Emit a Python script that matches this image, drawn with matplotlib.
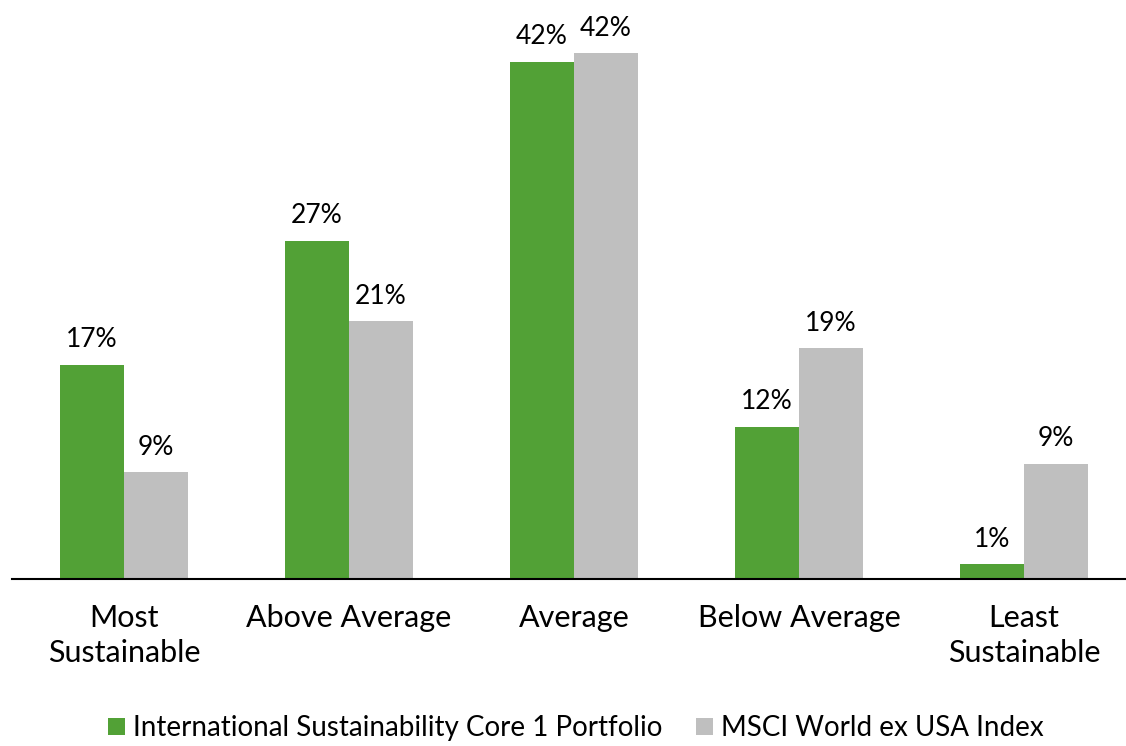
import numpy as np
import matplotlib.pyplot as plt

plt.rcParams['font.family'] = ['Lato', 'DejaVu Sans']

# data
categories = ["Most\nSustainable", "Above Average", "Average", "Below Average", "Least\nSustainable"]
portfolio = [17.3, 27.3, 41.7, 12.3, 1.2]
index_vals = [8.6, 20.8, 42.4, 18.6, 9.3]
series_names = ["International Sustainability Core 1 Portfolio", "MSCI World ex USA Index"]

GREEN = "#52A136"
GRAY = "#BFBFBF"
W = 0.284

fig = plt.figure(figsize=(11.26, 7.46), dpi=100)
ax = fig.add_axes([12 / 1126, 167 / 746, 1114 / 1126, 579 / 746])

x = np.arange(len(categories))
b1 = ax.bar(x - W / 2, portfolio, W, color=GREEN, label=series_names[0])
b2 = ax.bar(x + W / 2, index_vals, W, color=GRAY, label=series_names[1])

for bars, vals in [(b1, portfolio), (b2, index_vals)]:
    for rect, v in zip(bars, vals):
        ax.annotate(f"{v:.0f}%", (rect.get_x() + rect.get_width() / 2, rect.get_height()),
                    xytext=(0, 9), textcoords="offset points",
                    ha="center", va="bottom", fontsize=19)

ax.set_xlim(-0.498, 4.453)
ax.set_ylim(0, 46.7)
ax.set_xticks(x)
ax.set_xticklabels(categories, fontsize=22, linespacing=1.32)
ax.tick_params(axis="x", length=0, pad=18)
ax.set_yticks([])
for s in ["top", "left", "right"]:
    ax.spines[s].set_visible(False)
ax.spines["bottom"].set_linewidth(1.5)

fig.legend(handles=[b1, b2], loc="lower center", bbox_to_anchor=(0.5115, -0.027), ncol=2,
           frameon=False, fontsize=20, handlelength=0.6, handleheight=0.6,
           handletextpad=0.3, columnspacing=1.2)

fig.savefig("out.png", dpi=100)
